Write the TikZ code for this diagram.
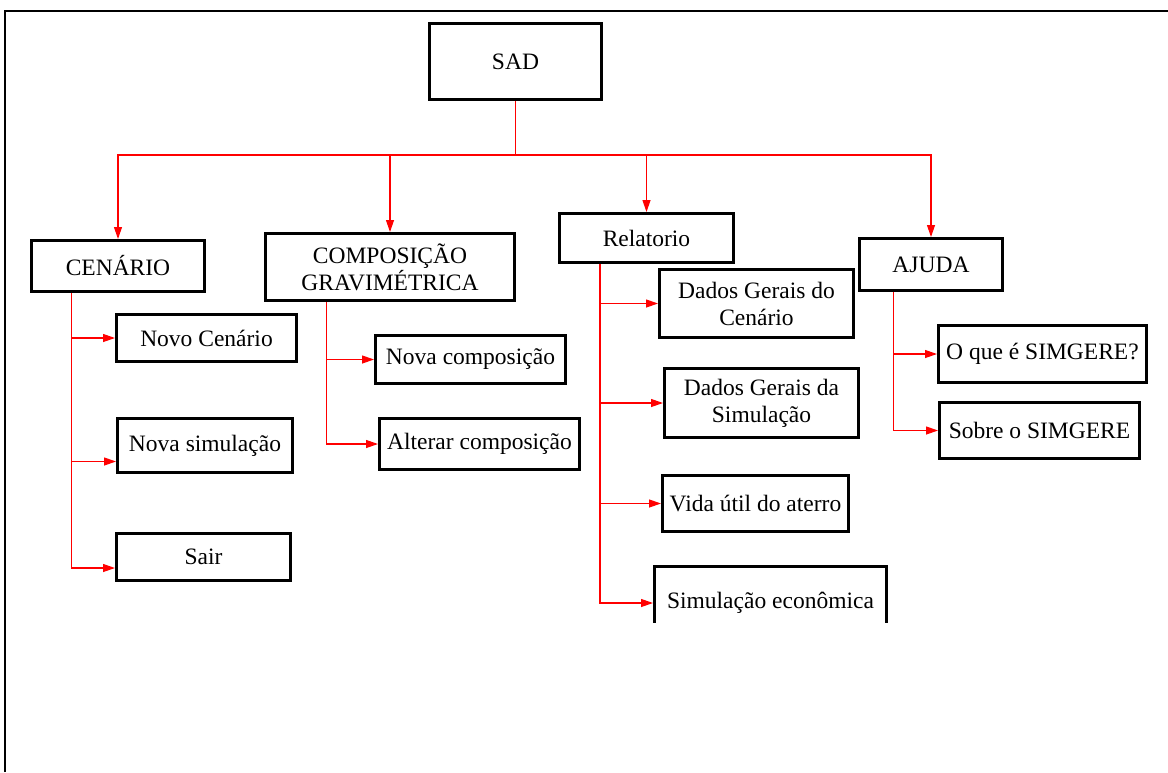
\documentclass[tikz,border=0pt]{standalone}
\usepackage{fontspec}
\setmainfont{Liberation Serif}
\usetikzlibrary{arrows.meta}
\begin{document}
\begin{tikzpicture}[x=1pt,y=-1pt,
  box/.style={draw=black,line width=3pt,inner sep=0pt,align=center,
    font=\fontsize{23.5pt}{27pt}\selectfont},
  conn/.style={draw=red,line width=1.2pt},
  arr/.style={conn,-{Triangle[length=12pt,width=8pt]}}]
\useasboundingbox (0,0) rectangle (1168,772);
\draw[line width=2pt] (5,772) -- (5,11) -- (1168,11);
% top level
\node[box,minimum width=172pt,minimum height=76pt] (sad) at (515.5,61.5) {SAD};
\node[box,minimum width=173pt,minimum height=51pt] (cen) at (118,266) {CENÁRIO};
\node[box,minimum width=249pt,minimum height=67pt] (comp) at (390,267) {COMPOSIÇÃO\\GRAVIMÉTRICA};
\node[box,minimum width=174pt,minimum height=49pt] (rel) at (646.5,238) {Relatorio};
\node[box,minimum width=143pt,minimum height=52pt] (aj) at (931,264.5) {AJUDA};
% CENARIO children
\node[box,minimum width=180pt,minimum height=47pt] (novo) at (206.5,338) {Novo Cenário};
\node[box,minimum width=175pt,minimum height=54pt] (nsim) at (205,445.5) {Nova simulação};
\node[box,minimum width=174pt,minimum height=47pt] (sair) at (203.5,557) {Sair};
% COMPOSICAO children
\node[box,minimum width=190pt,minimum height=48pt] (ncomp) at (470.5,359.5) {Nova composição};
\node[box,minimum width=200pt,minimum height=51pt] (alt) at (479.5,444) {Alterar composição};
% Relatorio children
\node[box,minimum width=194pt,minimum height=68pt] (dgc) at (756.5,303.5) {Dados Gerais do\\Cenário};
\node[box,minimum width=194pt,minimum height=69pt] (dgs) at (761.5,403) {Dados Gerais da\\Simulação};
\node[box,minimum width=186pt,minimum height=56pt] (vida) at (755.5,503.5) {Vida útil do aterro};
\begin{scope}
\clip (600,555) rectangle (900,622);
\node[box,minimum width=232pt,minimum height=73pt] (secon) at (770.5,603) {Simulação econômica};
\end{scope}
% AJUDA children
\node[box,minimum width=208pt,minimum height=57pt] (oque) at (1042.5,354) {O que é SIMGERE?};
\node[box,minimum width=200pt,minimum height=56pt] (sobre) at (1039.5,430.5) {Sobre o SIMGERE};
% bus
\coordinate (bus) at (515.5,155);
\draw[arr] (sad.south) -- (bus) -| (cen.north);
\draw[arr] (sad.south) -- (bus) -| (comp.north);
\draw[arr] (sad.south) -- (bus) -| (rel.north);
\draw[arr] (sad.south) -- (bus) -| (aj.north);
% branches
\draw[arr] ([xshift=41.5pt]cen.south west) |- (novo.west);
\draw[arr] ([xshift=41.5pt]cen.south west) |- ([yshift=-16pt]nsim.west);
\draw[arr] ([xshift=41.5pt]cen.south west) |- ([yshift=-11pt]sair.west);
\draw[arr] ([xshift=62.5pt]comp.south west) |- (ncomp.west);
\draw[arr] ([xshift=62.5pt]comp.south west) |- (alt.west);
\draw[arr] ([xshift=42pt]rel.south west) |- (dgc.west);
\draw[arr] ([xshift=42pt]rel.south west) |- (dgs.west);
\draw[arr] ([xshift=42pt]rel.south west) |- (vida.west);
\draw[arr] ([xshift=42pt]rel.south west) |- (secon.west);
\draw[arr] ([xshift=35.5pt]aj.south west) |- (oque.west);
\draw[arr] ([xshift=35.5pt]aj.south west) |- (sobre.west);
\end{tikzpicture}
\end{document}
